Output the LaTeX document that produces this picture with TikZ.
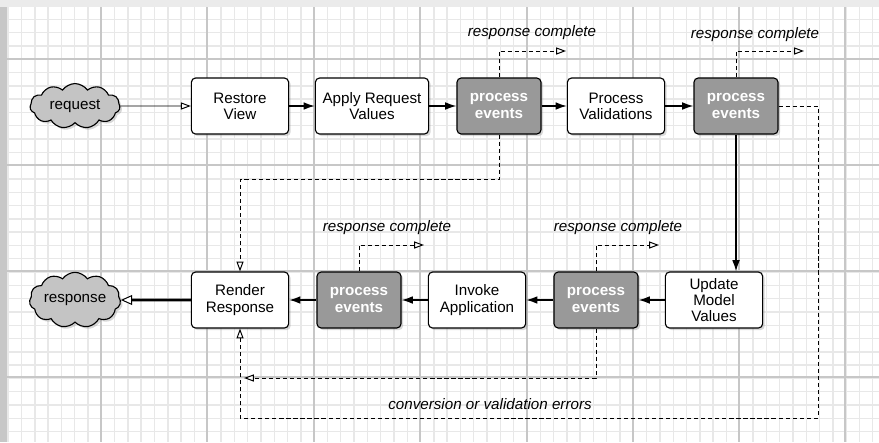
\documentclass[tikz,border=0pt]{standalone}
\usepackage{fontspec}
\setmainfont{Liberation Sans}
\usetikzlibrary{arrows.meta,shapes.symbols,shadows}

\begin{document}
\begin{tikzpicture}[x=0.025cm, y=-0.025cm,
  every node/.style={font=\fontsize{10.8}{11.5}\selectfont},
  minor/.style={black!9, line width=1pt},
  major/.style={black!22, line width=0.9pt},
  phase/.style={draw, line width=0.8pt, rounded corners=3pt, fill=white, align=center,
    minimum width=2.43cm, minimum height=1.4cm, inner sep=2pt,
    drop shadow={opacity=0.3, shadow xshift=1.5pt, shadow yshift=-1.5pt}},
  events/.style={phase, fill=black!40, text=white, minimum width=2.1cm,
    font=\fontsize{10.8}{11.5}\selectfont\bfseries},
  cloudy/.style={cloud, cloud puffs=11, cloud puff arc=110, aspect=2, draw, line width=0.8pt,
    fill=black!23, minimum width=2.25cm, minimum height=1.1cm, inner sep=0pt,
    drop shadow={opacity=0.3, shadow xshift=1.5pt, shadow yshift=-1.5pt}},
  flow/.style={line width=1pt, -{Latex[length=8pt,width=5.5pt]}},
  feed/.style={line width=0.7pt, -{Triangle[fill=white,length=7pt,width=5pt]}},
  jump/.style={dash pattern=on 3pt off 2pt, line width=0.7pt,
    -{Triangle[fill=white,length=7pt,width=5pt]}},
  note/.style={font=\fontsize{10.8}{11.5}\selectfont\itshape}]
\useasboundingbox (0,0) rectangle (879,442);
% graph paper
\fill[black!8] (0,0) rectangle (879,442);
\fill[black!22] (0,7) rectangle (7,442);
\fill[white] (7,7) rectangle (879,442);
\foreach \x in {8.2,21.5,...,879} \draw[minor] (\x,7) -- (\x,442);
\foreach \y in {19.3,32.6,...,442} \draw[minor] (7,\y) -- (879,\y);
\foreach \x in {101,207,314,420,527,633,739,845} \draw[major] (\x,7) -- (\x,442);
\foreach \y in {59,165,271,377} \draw[major] (7,\y) -- (879,\y);

% upper row
\node[cloudy] (req) at (75,106) {request};
\node[phase] (rv) at (240,106) {Restore\\View};
\node[phase, minimum width=2.83cm] (arv) at (372,106) {Apply Request\\Values};
\node[events] (pe1) at (499,106) {process\\events};
\node[phase] (pv) at (616,106) {Process\\Validations};
\node[events] (pe2) at (736,106) {process\\events};

% lower row
\node[phase] (umv) at (714,300) {Update\\Model\\Values};
\node[events] (pe4) at (596,300) {process\\events};
\node[phase] (ia) at (477,300) {Invoke\\Application};
\node[events] (pe3) at (359,300) {process\\events};
\node[phase] (rr) at (240,300) {Render\\Response};
\node[cloudy] (resp) at (75,300) {response};

% normal flow
\draw[feed] (req) -- (rv);
\draw[flow] (rv) -- (arv);
\draw[flow] (arv) -- (pe1);
\draw[flow] (pe1) -- (pv);
\draw[flow] (pv) -- (pe2);
\draw[flow] (pe2.south) -- (pe2.south |- umv.north);
\draw[flow] (umv) -- (pe4);
\draw[flow] (pe4) -- (ia);
\draw[flow] (ia) -- (pe3);
\draw[flow] (pe3) -- (rr);
\draw[line width=2pt, -{Triangle[fill=white,length=8pt,width=7pt,line width=0.7pt]}] (rr) -- (resp);

% response complete exits
\coordinate (rc1) at (566,51);
\coordinate (rc2) at (804,51);
\coordinate (rc3) at (424,245);
\coordinate (rc4) at (659,245);
\draw[jump] (pe1.north) |- (rc1);
\draw[jump] (pe2.north) |- (rc2);
\draw[jump] (pe3.north) |- (rc3);
\draw[jump] (pe4.north) |- (rc4);
\node[note] (rcl1) at (532,33) {response complete};
\node[note] (rcl2) at (755,35) {response complete};
\node[note] (rcl3) at (387,228) {response complete};
\node[note] (rcl4) at (618,228) {response complete};

% jumps to render response
\coordinate (errc) at (818,418);
\coordinate (errj) at (244,378);
\draw[jump] (pe1.south) -- ++(0,45) -| (rr.north);
\draw[jump] (pe2.east) -| (errc) -| (rr.south);
\draw[jump] (pe4.south) |- (errj);
\node[note] (errl) at (490,404) {conversion or validation errors};
\end{tikzpicture}
\end{document}
